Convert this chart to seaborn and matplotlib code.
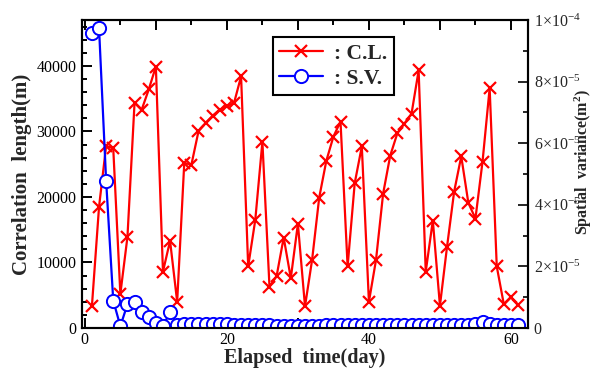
import matplotlib
matplotlib.use("Agg")
import matplotlib.pyplot as plt
import matplotlib.ticker as mticker
from matplotlib.lines import Line2D
import seaborn as sns

days = [1, 2, 3, 4, 5, 6, 7, 8, 9, 10,
        11, 12, 13, 14, 15, 16, 17, 18, 19, 20,
        21, 22, 23, 24, 25, 26, 27, 28, 29, 30,
        31, 32, 33, 34, 35, 36, 37, 38, 39, 40,
        41, 42, 43, 44, 45, 46, 47, 48, 49, 50,
        51, 52, 53, 54, 55, 56, 57, 58, 59, 60, 61]

corr_length = [3400, 18500, 27800, 27400, 5200, 13900, 34400, 33300, 36400, 39900,
               8600, 13300, 4000, 25200, 24900, 30000, 31300, 32400, 33300, 33900,
               34300, 38400, 9400, 16500, 28400, 6300, 7900, 13800, 7600, 15900,
               3300, 10400, 19900, 25500, 29200, 31500, 9400, 22100, 27700, 4000,
               10400, 20500, 26300, 29700, 31200, 32700, 39300, 8600, 16400, 3400,
               12400, 20800, 26200, 19100, 16700, 25400, 36600, 9400, 3600, 4700, 3500]

spatial_var_e5 = [9.59, 9.73, 4.77, 0.89, 0.06, 0.77, 0.85, 0.51, 0.36, 0.17,
                  0.06, 0.52, 0.10, 0.13, 0.13, 0.13, 0.13, 0.12, 0.12, 0.12,
                  0.11, 0.10, 0.09, 0.09, 0.09, 0.09, 0.08, 0.08, 0.08, 0.08,
                  0.08, 0.08, 0.08, 0.09, 0.09, 0.09, 0.09, 0.10, 0.10, 0.09,
                  0.09, 0.09, 0.09, 0.09, 0.09, 0.09, 0.09, 0.09, 0.09, 0.09,
                  0.09, 0.09, 0.10, 0.10, 0.12, 0.18, 0.14, 0.10, 0.10, 0.10, 0.10]
spatial_var = [v * 1e-5 for v in spatial_var_e5]

x_tick_labels = ["0", "", "20", "", "40", "", "60"]
left_ticks = [0, 10000, 20000, 30000, 40000]
right_tick_labels = ["0", r"$2{\times}10^{-5}$", r"$4{\times}10^{-5}$",
                     r"$6{\times}10^{-5}$", r"$8{\times}10^{-5}$", r"$1{\times}10^{-4}$"]

sns.set_style("ticks")
plt.rcParams["font.family"] = ["Liberation Serif", "DejaVu Serif"]
plt.rcParams["mathtext.fontset"] = "custom"
plt.rcParams["mathtext.rm"] = "Liberation Serif"
plt.rcParams["mathtext.it"] = "Liberation Serif:italic"
plt.rcParams["mathtext.bf"] = "Liberation Serif:bold"

fig = plt.figure(figsize=(5.97, 3.70), dpi=100)
ax = fig.add_axes([82 / 597, 1 - 328 / 370, 446 / 597, 308 / 370])
ax2 = ax.twinx()

sns.lineplot(x=days, y=corr_length, ax=ax, color="red", marker="x",
             markersize=8, markeredgewidth=1.6, markeredgecolor="red",
             linewidth=1.6, sort=False, legend=False)
sns.lineplot(x=days, y=spatial_var, ax=ax2, color="blue", marker="o",
             markersize=9.5, markerfacecolor="white", markeredgecolor="blue",
             markeredgewidth=1.4, linewidth=1.6, sort=False, legend=False)

ax.set_xlim(-0.4, 62.4)
ax.set_ylim(0, 47000)
ax2.set_ylim(0, 1e-4)

ax.xaxis.set_major_locator(mticker.FixedLocator([0, 10, 20, 30, 40, 50, 60]))
ax.set_xticklabels(x_tick_labels)
ax.xaxis.set_minor_locator(mticker.MultipleLocator(5))
ax.yaxis.set_major_locator(mticker.FixedLocator(left_ticks))
ax.set_yticklabels([str(t) for t in left_ticks])
ax.yaxis.set_minor_locator(mticker.MultipleLocator(2000))
ax2.yaxis.set_major_locator(mticker.FixedLocator([0, 2e-5, 4e-5, 6e-5, 8e-5, 1e-4]))
ax2.set_yticklabels(right_tick_labels)
ax2.yaxis.set_minor_locator(mticker.MultipleLocator(1e-5))

for a in (ax, ax2):
    for s in a.spines.values():
        s.set_linewidth(1.5)
        s.set_color("black")
        s.set_visible(True)
ax.tick_params(axis="both", which="both", direction="in", top=True, width=1.4,
               labelsize=11.5, colors="black", pad=4)
ax.tick_params(axis="x", pad=3)
ax.tick_params(axis="y", right=False)
ax.tick_params(which="major", length=7)
ax.tick_params(which="minor", length=3.5)
ax2.tick_params(axis="y", which="both", direction="in", width=1.4, labelsize=11.5, pad=4)
ax2.tick_params(which="major", length=7)
ax2.tick_params(which="minor", length=3.5)

ax.set_xlabel("Elapsed  time(day)", fontsize=14.5, fontweight="bold", labelpad=0)
ax.set_ylabel("Correlation  length(m)", fontsize=15, fontweight="bold", labelpad=3)
ax2.set_ylabel(r"Spatial  variance(m$^\mathbf{2}$)", fontsize=11.5, fontweight="bold",
               rotation=90, va="center", ha="center")
ax2.yaxis.set_label_coords((583 - 82) / 446, 0.54)

handles = [
    Line2D([], [], color="red", marker="x", markersize=8, markeredgewidth=1.6,
           linewidth=1.6),
    Line2D([], [], color="blue", marker="o", markersize=9.5, markerfacecolor="white",
           markeredgewidth=1.4, linewidth=1.6),
]
leg = ax2.legend(handles, [": C.L.", ": S.V."], loc="upper left",
                 bbox_to_anchor=((273 - 82) / 446, (328 - 37) / 308),
                 borderaxespad=0, fancybox=False, frameon=True, handlelength=2.0,
                 handletextpad=0.55,
                 prop={"family": "Liberation Serif", "weight": "bold", "size": 15.5},
                 labelspacing=0.25, borderpad=0.3)
leg.get_frame().set_edgecolor("black")
leg.get_frame().set_linewidth(1.5)
leg.get_frame().set_alpha(1)

fig.savefig("out.png", dpi=100)
